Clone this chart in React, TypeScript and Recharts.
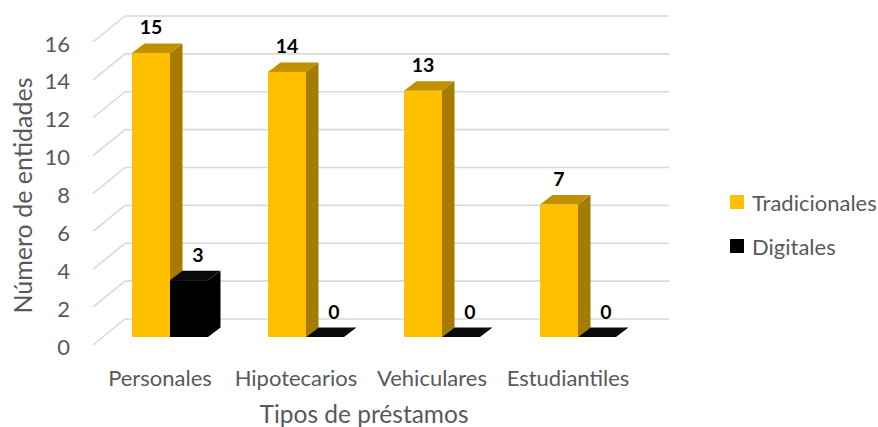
import { BarChart, Bar, XAxis, YAxis, CartesianGrid, Legend, LabelList } from 'recharts';

const categories = ['Personales', 'Hipotecarios', 'Vehiculares', 'Estudiantiles'];
const tradicionales = [15, 14, 13, 7];
const digitales = [3, 0, 0, 0];
const yTicks = [0, 2, 4, 6, 8, 10, 12, 14, 16];
const seriesOrder = ['Tradicionales', 'Digitales'];

const data = categories.map((categoria, i) => ({
  categoria,
  Tradicionales: tradicionales[i],
  Digitales: digitales[i],
}));

const FONT = 'Lato, "Open Sans", sans-serif';
const TEXT = '#595959';

// 3d look: depth of the bars and of the floor/back wall
const DX = 12.5;
const DY = 9.5;
const WALL_DX = 23;
const WALL_DY = 18;
const FRONT_DX = -9;
const FRONT_DY = 8;

const colors: Record<string, { front: string; side: string; top: string }> = {
  Tradicionales: { front: '#FFC000', side: '#A67C00', top: '#C09000' },
  Digitales: { front: '#000000', side: '#000000', top: '#0a0a0a' },
};

function makeBox(key: string) {
  return (props: any) => {
    const { x, y, width, height } = props;
    const c = colors[key];
    const h = Math.max(0, height || 0);
    return (
      <g>
        <polygon
          points={`${x + width},${y} ${x + width + DX},${y - DY} ${x + width + DX},${y + h - DY} ${x + width},${y + h}`}
          fill={c.side}
        />
        <polygon
          points={`${x},${y} ${x + DX},${y - DY} ${x + width + DX},${y - DY} ${x + width},${y}`}
          fill={c.top}
        />
        <rect x={x} y={y} width={width} height={h} fill={c.front} />
      </g>
    );
  };
}

function gridLine(props: any) {
  const { x1, y1, x2 } = props;
  return (
    <g key={props.key}>
      <line x1={x1 + WALL_DX} y1={y1 - WALL_DY} x2={x2 + WALL_DX} y2={y1 - WALL_DY} stroke="#d9d9d9" strokeWidth={1.6} />
      <line x1={x1 + WALL_DX} y1={y1 - WALL_DY} x2={x1 + FRONT_DX} y2={y1 + FRONT_DY} stroke="#d9d9d9" strokeWidth={1.6} />
    </g>
  );
}

function YTick(props: any) {
  const { x, y, payload } = props;
  return (
    <text x={x - 32} y={y + 9} textAnchor="end" dominantBaseline="central" fill={TEXT} fontSize={22} fontFamily={FONT}>
      {payload.value}
    </text>
  );
}

function XTick(props: any) {
  const { x, y, payload } = props;
  return (
    <text x={x - 10} y={y + 40} textAnchor="middle" dominantBaseline="central" fill={TEXT} fontSize={22} fontFamily={FONT}>
      {payload.value}
    </text>
  );
}

function valueLabel(shift: number) {
  return (props: any) => {
    const { x, y, width, value } = props;
    return (
      <text
        x={x + width / 2 + shift}
        y={y - 26}
        textAnchor="middle"
        dominantBaseline="central"
        fill="#000"
        fontSize={19.5}
        fontWeight="bold"
        fontFamily={FONT}
      >
        {value}
      </text>
    );
  };
}

function LegendBox(props: any) {
  const items = [...(props.payload || [])].sort(
    (a: any, b: any) => seriesOrder.indexOf(a.dataKey) - seriesOrder.indexOf(b.dataKey)
  );
  return (
    <div style={{ fontFamily: FONT, fontSize: 22, color: TEXT }}>
      {items.map((it: any) => (
        <div key={it.value} style={{ display: 'flex', alignItems: 'center', height: 44 }}>
          <span
            style={{
              display: 'inline-block',
              width: 14,
              height: 14,
              background: colors[it.dataKey as string].front,
              marginRight: 8,
            }}
          />
          <span>{it.value}</span>
        </div>
      ))}
    </div>
  );
}

export default function App() {
  return (
    <div style={{ position: 'absolute', left: 0, top: 0, background: '#fff' }}>
      <BarChart
        width={878}
        height={427}
        data={data}
        margin={{ top: 34, right: 232, bottom: 0, left: 0 }}
        barSize={38}
        barGap={0}
      >
        <CartesianGrid vertical={false} horizontal={gridLine} />
        <XAxis
          dataKey="categoria"
          height={90}
          axisLine={false}
          tickLine={false}
          tickSize={0}
          tickMargin={0}
          tick={<XTick />}
          interval={0}
          label={(p: any) => {
            const vb = p.viewBox;
            return (
              <text
                x={vb.x + vb.width / 2 - 10}
                y={vb.y + 76}
                textAnchor="middle"
                dominantBaseline="central"
                fill={TEXT}
                fontSize={24.5}
                fontFamily={FONT}
              >
                Tipos de préstamos
              </text>
            );
          }}
        />
        <YAxis
          width={102}
          domain={[0, 16]}
          ticks={yTicks}
          axisLine={false}
          tickLine={false}
          tickSize={0}
          tickMargin={0}
          tick={<YTick />}
          label={(p: any) => {
            const vb = p.viewBox;
            const cx = 22;
            const cy = vb.y + vb.height / 2 + 10;
            return (
              <text
                x={cx}
                y={cy}
                transform={`rotate(-90 ${cx} ${cy})`}
                textAnchor="middle"
                dominantBaseline="central"
                fill={TEXT}
                fontSize={25}
                fontFamily={FONT}
              >
                Número de entidades
              </text>
            );
          }}
        />
        <Legend
          layout="horizontal"
          verticalAlign="middle"
          align="center"
          content={<LegendBox />}
          wrapperStyle={{ left: 730, top: 180, width: 148 }}
        />
        <Bar dataKey="Tradicionales" shape={makeBox('Tradicionales')} isAnimationActive={false}>
          <LabelList dataKey="Tradicionales" content={valueLabel(0)} />
        </Bar>
        <Bar dataKey="Digitales" shape={makeBox('Digitales')} isAnimationActive={false}>
          <LabelList dataKey="Digitales" content={valueLabel(9)} />
        </Bar>
      </BarChart>
    </div>
  );
}
